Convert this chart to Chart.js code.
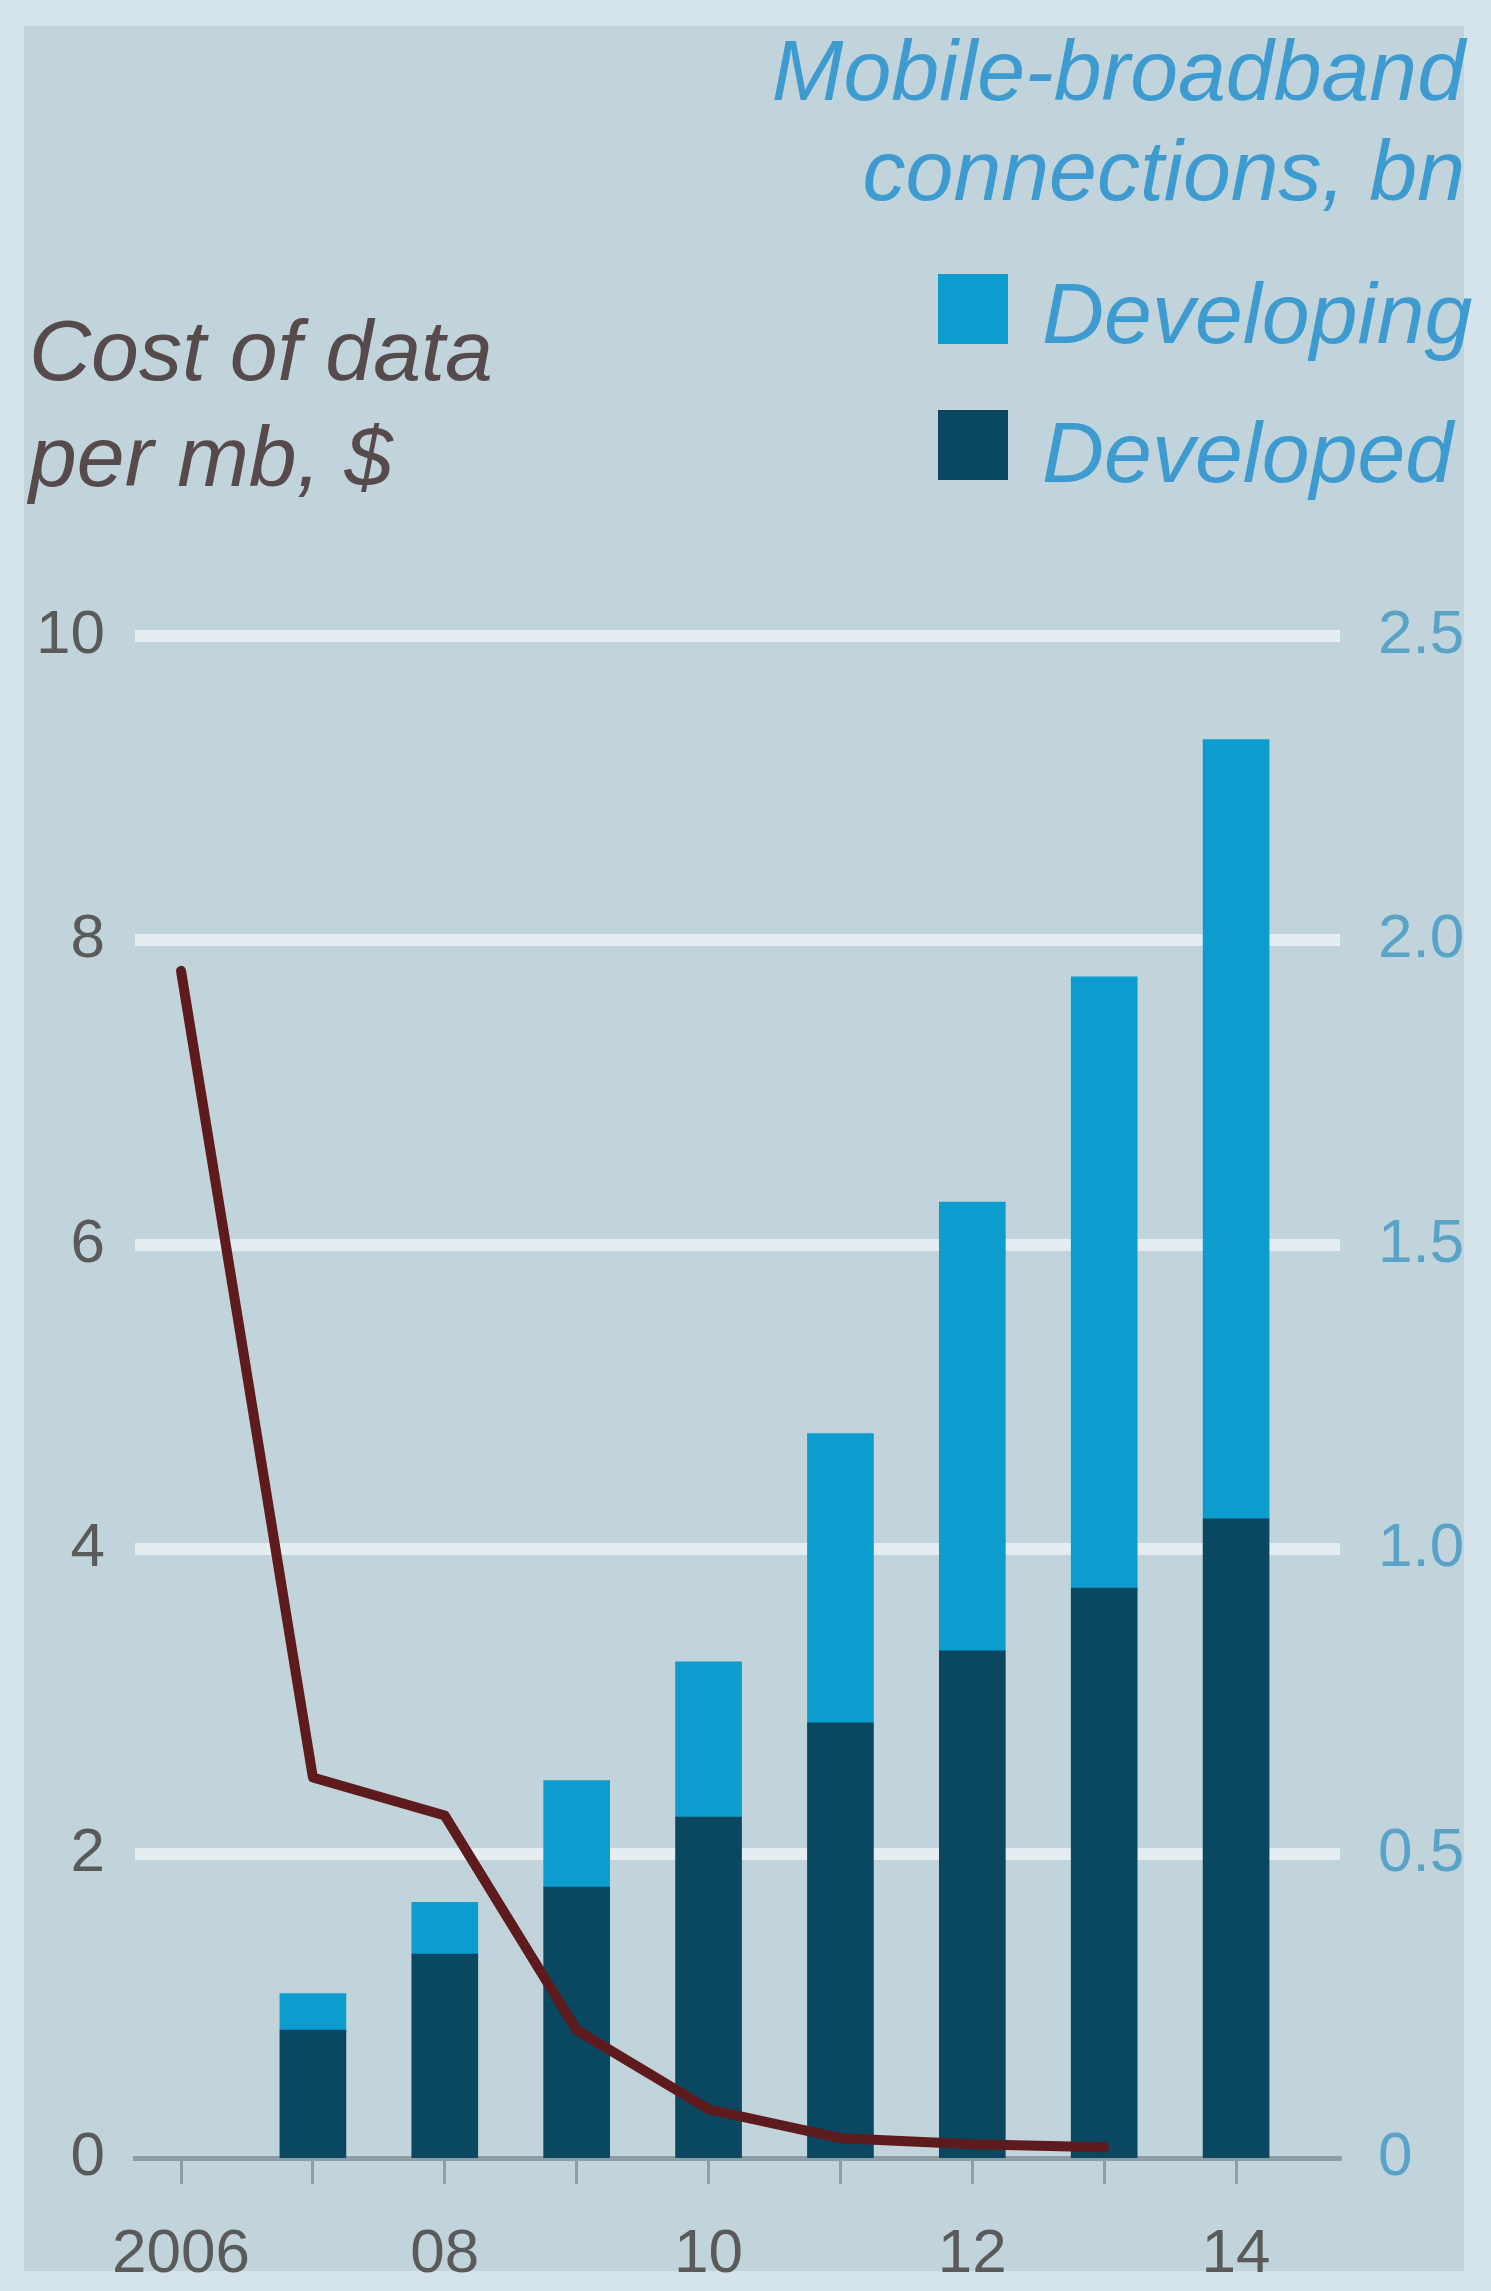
<!DOCTYPE html>
<html>
<head>
<meta charset="utf-8">
<script src="https://cdn.jsdelivr.net/npm/chart.js@4/dist/chart.umd.min.js"></script>
<style>
html,body{margin:0;padding:0;}
body{width:1491px;height:2291px;background:#d4e4ea;position:relative;overflow:hidden;}
#panel{position:absolute;left:24px;top:26px;width:1440px;height:2245px;background:#c1d4dc;}
#c{position:absolute;left:0;top:0;}
.t{position:absolute;font-family:"Liberation Sans",Arial,sans-serif;font-style:italic;white-space:nowrap;font-size:86px;line-height:86px;}
.r{right:26px;text-align:right;color:#3d9bcf;}
.sq{position:absolute;width:70px;height:70px;}
</style>
</head>
<body>
<div id="panel"></div>
<div class="t r" style="top:27px;">Mobile-broadband</div>
<div class="t r" style="top:127px;">connections, bn</div>
<div class="sq" style="left:938px;top:274px;background:#0c9ccd;"></div>
<div class="t" style="left:1042px;top:270px;color:#3d9bcf;">Developing</div>
<div class="sq" style="left:938px;top:410px;background:#0a4761;"></div>
<div class="t" style="left:1042px;top:409px;color:#3d9bcf;">Developed</div>
<div class="t" style="left:29px;top:307px;color:#574a4c;">Cost of data</div>
<div class="t" style="left:29px;top:413px;color:#574a4c;">per mb, $</div>
<canvas id="c" width="1491" height="2291"></canvas>
<script>
// ---- data ----
const years = [2006, 2007, 2008, 2009, 2010, 2011, 2012, 2013, 2014];
const barYears = [2007, 2008, 2009, 2010, 2011, 2012, 2013, 2014];
const developed = [0.21, 0.335, 0.445, 0.56, 0.715, 0.833, 0.936, 1.05];
const developing = [0.06, 0.085, 0.175, 0.255, 0.475, 0.737, 1.004, 1.28];
const costYears = [2006, 2007, 2008, 2009, 2010, 2011, 2012, 2013];
const cost = [7.8, 2.5, 2.25, 0.84, 0.32, 0.13, 0.09, 0.07];
const xTickLabels = {2006: '2006', 2008: '08', 2010: '10', 2012: '12', 2014: '14'};
const leftTicks = [0, 2, 4, 6, 8, 10];
const rightTicks = [0, 0.5, 1.0, 1.5, 2.0, 2.5];

const tickFont = {family: '"Liberation Sans", Arial, sans-serif', size: 62};

new Chart(document.getElementById('c'), {
  type: 'bar',
  data: {
    datasets: [
      {
        type: 'line',
        label: 'Cost of data per mb, $',
        data: costYears.map((x, i) => ({x: x, y: cost[i]})),
        xAxisID: 'x', yAxisID: 'yCost',
        borderColor: '#5e1b1d', borderWidth: 10,
        pointRadius: 0, tension: 0,
        borderJoinStyle: 'round', borderCapStyle: 'round',
        order: 0
      },
      {
        label: 'Developed',
        data: barYears.map((x, i) => ({x: x, y: developed[i]})),
        xAxisID: 'x', yAxisID: 'yConn', stack: 'conn',
        backgroundColor: '#0a4761', barThickness: 66,
        order: 1
      },
      {
        label: 'Developing',
        data: barYears.map((x, i) => ({x: x, y: developing[i]})),
        xAxisID: 'x', yAxisID: 'yConn', stack: 'conn',
        backgroundColor: '#0c9ccd', barThickness: 66,
        order: 2
      }
    ]
  },
  options: {
    responsive: false, animation: false, devicePixelRatio: 1,
    layout: {padding: {top: 636, left: 0, right: 0, bottom: 0}},
    plugins: {legend: {display: false}, tooltip: {enabled: false}},
    scales: {
      x: {
        type: 'linear', position: 'bottom', offset: false,
        min: 2005.651, max: 2014.788,
        afterBuildTicks: s => { s.ticks = years.map(v => ({value: v})); },
        afterFit: s => { s.height = 133; },
        ticks: {autoSkip: false, maxRotation: 0, minRotation: 0, padding: 34,
                callback: v => xTickLabels[v] || '', font: tickFont, color: '#5a5a5a'},
        grid: {offset: false, drawOnChartArea: false, drawTicks: true, tickLength: 26,
               color: '#8d9ea7', lineWidth: 3},
        border: {display: true, color: '#8d9ea7', width: 5}
      },
      yCost: {
        position: 'left', min: 0, max: 10,
        afterBuildTicks: s => { s.ticks = leftTicks.map(v => ({value: v})); },
        afterFit: s => { s.width = 135; },
        ticks: {padding: 30, font: tickFont, color: '#5a5a5a'},
        grid: {color: c => (c.tick && c.tick.value === 0) ? 'rgba(0,0,0,0)' : '#e4eef2',
               lineWidth: 12, drawTicks: false},
        border: {display: false}
      },
      yConn: {
        position: 'right', min: 0, max: 2.5, stacked: true,
        afterBuildTicks: s => { s.ticks = rightTicks.map(v => ({value: v})); },
        afterFit: s => { s.width = 151; },
        ticks: {padding: 30, font: tickFont, color: '#5aa3c8',
                callback: v => v === 0 ? '0' : v.toFixed(1)},
        grid: {display: false},
        border: {display: false}
      }
    }
  }
});
</script>
</body>
</html>
